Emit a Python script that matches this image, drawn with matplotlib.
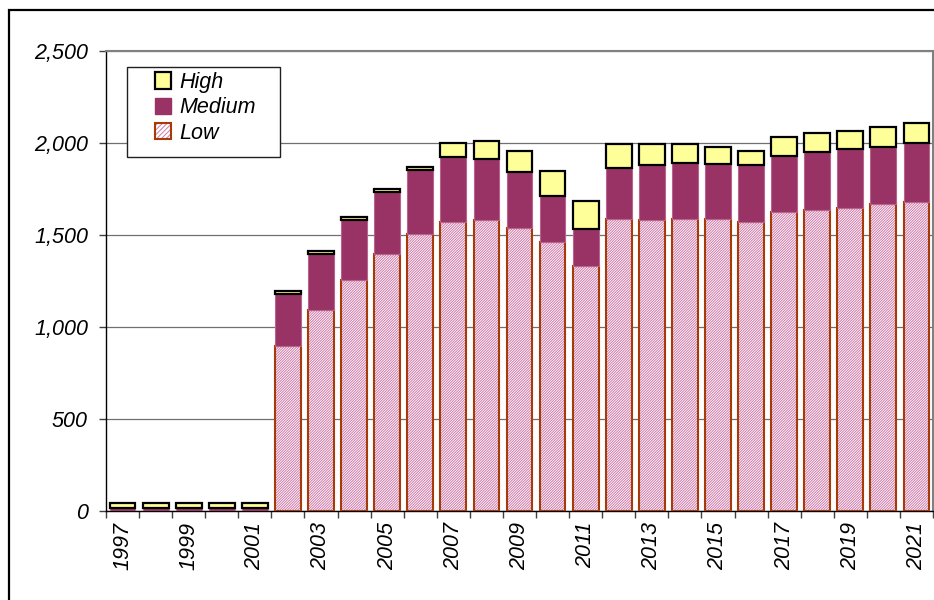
import numpy as np
import matplotlib
matplotlib.use('Agg')
import matplotlib.pyplot as plt
from matplotlib.patches import Patch, Rectangle
from matplotlib.legend_handler import HandlerTuple
from matplotlib.ticker import FuncFormatter

years = list(range(1997, 2022))
low = [2, 2, 2, 2, 2, 897, 1092, 1255, 1397, 1505, 1572, 1582, 1540, 1464, 1333,
       1585, 1583, 1585, 1585, 1572, 1627, 1638, 1648, 1670, 1681]
medium = [12, 12, 12, 12, 12, 282, 305, 327, 337, 350, 350, 329, 304, 250, 198,
          281, 296, 305, 301, 308, 304, 315, 318, 307, 317]
high = [30, 30, 30, 30, 30, 18, 18, 18, 18, 16, 80, 102, 114, 136, 155,
        127, 114, 103, 94, 78, 103, 103, 101, 111, 112]
tick_years = [str(y) for y in years[::2]]

plt.rcParams['font.family'] = ['Liberation Sans', 'DejaVu Sans']
plt.rcParams['font.style'] = 'italic'
plt.rcParams['hatch.linewidth'] = 0.7

fig = plt.figure(figsize=(9.34, 6.0), dpi=100)
ax = fig.add_axes([106 / 934, 1 - 511 / 600, 827 / 934, 460 / 600])

# outer chart frame
fig.patches.append(Rectangle((9 / 934, -0.1), 1.2, 1.1 - 10 / 600, transform=fig.transFigure,
                             fill=False, edgecolor='black', linewidth=1.6, zorder=0))

x = np.arange(len(years))
w = 0.78
low = np.array(low)
medium = np.array(medium)
high = np.array(high)

low_hatch = '#cf7aa9'
ax.bar(x, low, w, facecolor='white', edgecolor=low_hatch, hatch='/' * 13, linewidth=0, zorder=2)
ax.bar(x, low, w, fill=False, edgecolor='#a83a08', linewidth=1.5, zorder=3)
ax.bar(x, medium, w, bottom=low, color='#993366', edgecolor='#b8628c', linewidth=0.8, zorder=3)
ax.bar(x, high, w, bottom=low + medium, color='#ffff99', edgecolor='black', linewidth=1.6, zorder=4)

ax.set_xlim(-0.5, len(years) - 0.5)
ax.set_ylim(0, 2500)
ax.set_yticks(np.arange(0, 2501, 500))
ax.yaxis.set_major_formatter(FuncFormatter(lambda v, p: f'{int(v):,}'))
ax.yaxis.grid(True, color='#707070', linewidth=0.9, zorder=0)
ax.set_axisbelow(True)

ax.set_xticks(x[::2])
ax.set_xticklabels(tick_years, rotation=90)
ax.set_xticks(np.arange(-0.5, len(years), 1), minor=True)
ax.tick_params(axis='x', which='major', length=0, pad=8, labelsize=15.5)
ax.tick_params(axis='x', which='minor', length=5, width=1, color='#404040')
ax.tick_params(axis='y', length=5, width=1, color='#404040', pad=8, labelsize=15.5)

for s in ['left', 'bottom']:
    ax.spines[s].set_color('black')
    ax.spines[s].set_linewidth(1)
for s in ['top', 'right']:
    ax.spines[s].set_color('#808080')
    ax.spines[s].set_linewidth(1.5)

# legend box drawn separately so it can have wider side margins
ax.add_patch(Rectangle((21 / 827, (511 - 157) / 460), 153 / 827, 90 / 460,
                       transform=ax.transAxes, facecolor='white', edgecolor='#202020',
                       linewidth=1, zorder=5))

h_high = Patch(facecolor='#ffff99', edgecolor='black', linewidth=1.6)
h_med = Patch(facecolor='#993366', edgecolor='#993366')
h_low = (Patch(facecolor='white', edgecolor=low_hatch, hatch='/' * 7, linewidth=0),
         Patch(fill=False, edgecolor='#a83a08', linewidth=1.5))
leg = ax.legend([h_high, h_med, h_low], ['High', 'Medium', 'Low'],
                handler_map={tuple: HandlerTuple(ndivide=1)},
                loc='upper left', bbox_to_anchor=((155 - 106) / 827, (511 - 72) / 460),
                fontsize=15.5, frameon=False,
                handlelength=0.75, handleheight=0.8, handletextpad=0.4,
                labelspacing=0.2, borderpad=0, borderaxespad=0)
leg.set_zorder(6)
for t in leg.get_texts():
    t.set_fontstyle('italic')

fig.savefig('out.png', dpi=100)
